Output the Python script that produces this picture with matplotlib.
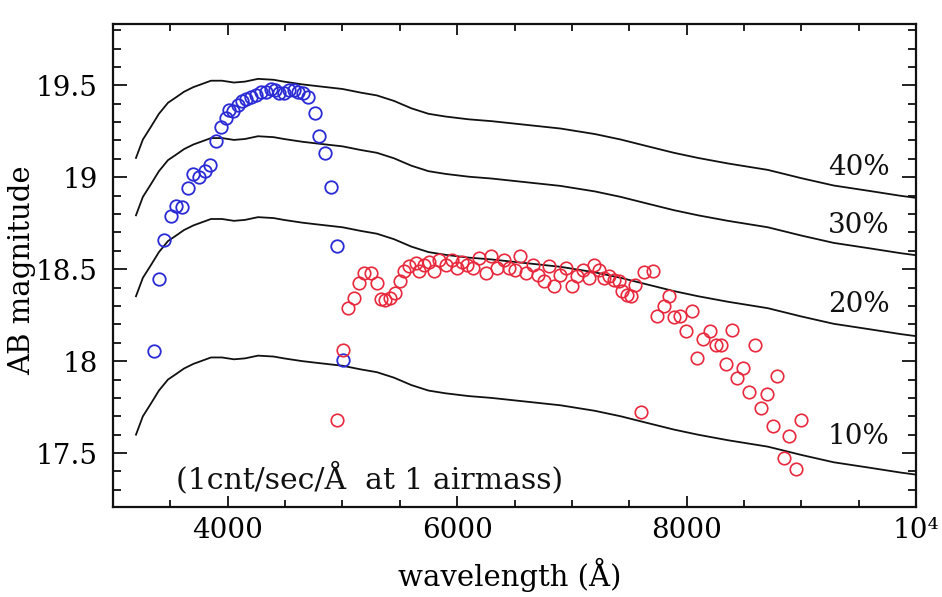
import matplotlib
matplotlib.use("Agg")
import matplotlib.pyplot as plt
from matplotlib.ticker import MultipleLocator, FixedLocator, FixedFormatter

# ---------------- data ----------------
# 10% throughput limiting-magnitude curve (1 cnt/sec/A at 1 airmass)
curve_wl = [3200, 3260, 3331, 3400, 3479, 3550, 3619, 3700, 3854, 3950, 4054,
            4150, 4264, 4400, 4490, 4650, 4787, 5000, 5161, 5300, 5450, 5600,
            5750, 5900, 6100, 6300, 6600, 6900, 7200, 7427, 7650, 7889, 8100,
            8360, 8708, 9000, 9283, 9600, 9867, 10000]
curve_mag10 = [17.60, 17.70, 17.77, 17.84, 17.90, 17.93, 17.96, 17.985, 18.02,
               18.02, 18.01, 18.015, 18.03, 18.025, 18.015, 18.00, 17.99,
               17.975, 17.955, 17.94, 17.91, 17.87, 17.84, 17.825, 17.81,
               17.80, 17.78, 17.76, 17.73, 17.70, 17.665, 17.628, 17.60,
               17.57, 17.535, 17.49, 17.45, 17.42, 17.394, 17.383]
levels = ["10%", "20%", "30%", "40%"]
level_offsets = [0.0, 0.753, 1.193, 1.505]
label_wl = [9500, 9500, 9500, 9500]
label_mag = [17.59, 18.307, 18.736, 19.052]

blue_wl = [3355, 3403, 3447, 3505, 3549, 3599, 3651, 3694, 3746, 3802, 3848,
           3898, 3941, 3985, 4013, 4044, 4087, 4122, 4159, 4203, 4246, 4290,
           4333, 4377, 4412, 4449, 4488, 4531, 4574, 4615, 4658, 4702, 4760,
           4797, 4850, 4900, 4952, 5002]
blue_mag = [18.057, 18.447, 18.657, 18.787, 18.841, 18.838, 18.941, 19.019,
            19.004, 19.032, 19.064, 19.198, 19.273, 19.322, 19.367, 19.358,
            19.394, 19.412, 19.425, 19.439, 19.448, 19.461, 19.466, 19.479,
            19.472, 19.457, 19.457, 19.472, 19.472, 19.466, 19.457, 19.436,
            19.352, 19.226, 19.131, 18.947, 18.624, 18.008]

red_wl = [4952, 5002, 5045, 5097, 5146, 5190, 5248, 5300, 5336, 5373, 5417,
          5460, 5500, 5538, 5582, 5641, 5669, 5713, 5756, 5800, 5843, 5902,
          5951, 5997, 6041, 6090, 6134, 6191, 6250, 6299, 6346, 6404, 6453,
          6503, 6549, 6599, 6657, 6701, 6753, 6802, 6845, 6898, 6947, 6997,
          7043, 7093, 7150, 7194, 7237, 7281, 7324, 7368, 7412, 7441, 7479,
          7514, 7551, 7602, 7630, 7703, 7744, 7802, 7847, 7890, 7942, 7992,
          8050, 8094, 8146, 8204, 8254, 8298, 8342, 8400, 8443, 8496, 8545,
          8595, 8647, 8699, 8749, 8792, 8850, 8893, 8952, 8996]
red_mag = [17.682, 18.063, 18.289, 18.343, 18.425, 18.479, 18.479, 18.425,
           18.338, 18.330, 18.343, 18.371, 18.434, 18.488, 18.515, 18.534,
           18.488, 18.524, 18.537, 18.488, 18.552, 18.524, 18.552, 18.507,
           18.537, 18.524, 18.507, 18.561, 18.479, 18.573, 18.507, 18.552,
           18.507, 18.497, 18.570, 18.479, 18.524, 18.470, 18.434, 18.515,
           18.407, 18.470, 18.507, 18.407, 18.465, 18.497, 18.452, 18.524,
           18.497, 18.452, 18.461, 18.443, 18.434, 18.379, 18.361, 18.352,
           18.416, 17.722, 18.485, 18.488, 18.244, 18.298, 18.352, 18.240,
           18.244, 18.162, 18.271, 18.017, 18.121, 18.162, 18.090, 18.090,
           17.986, 18.167, 17.909, 17.963, 17.830, 18.090, 17.746, 17.822,
           17.649, 17.921, 17.474, 17.595, 17.414, 17.678]

xtick_vals = [4000, 6000, 8000, 10000]
xtick_labels = ["4000", "6000", "8000", "10\u2074"]
ytick_vals = [17.5, 18.0, 18.5, 19.0, 19.5]
ytick_labels = ["17.5", "18", "18.5", "19", "19.5"]
note_text = "(1cnt/sec/\u00c5  at 1 airmass)"

# ---------------- plot ----------------
plt.rcParams["font.family"] = ["DejaVu Serif"]
fig = plt.figure(figsize=(9.42, 5.97), dpi=100)
ax = fig.add_axes([0.12, 0.1508, 0.8524, 0.8092])

for off in level_offsets:
    ax.plot(curve_wl, [m + off for m in curve_mag10], color="#111111", lw=1.3)

ax.plot(blue_wl, blue_mag, linestyle="none", marker="o", ms=9, mfc="none",
        mec="#2b2bd6", mew=1.3)
ax.plot(red_wl, red_mag, linestyle="none", marker="o", ms=9, mfc="none",
        mec="#e8283c", mew=1.2)

for lab, xw, ym in zip(levels, label_wl, label_mag):
    ax.text(xw, ym, lab, fontsize=20, ha="center", va="center", color="#111111")

ax.text(3545, 17.365, note_text, fontsize=21.5, ha="left", va="center",
        color="#111111")

ax.set_xlim(3000, 10000)
ax.set_ylim(17.207, 19.834)

ax.xaxis.set_major_locator(FixedLocator(xtick_vals))
ax.xaxis.set_major_formatter(FixedFormatter(xtick_labels))
ax.xaxis.set_minor_locator(MultipleLocator(500))
ax.yaxis.set_major_locator(FixedLocator(ytick_vals))
ax.yaxis.set_major_formatter(FixedFormatter(ytick_labels))
ax.yaxis.set_minor_locator(MultipleLocator(0.1))

ax.tick_params(axis="both", which="both", direction="in", top=True,
               right=True, width=1.3, color="#111111")
ax.tick_params(axis="x", which="major", length=8, labelsize=20, pad=7)
ax.tick_params(axis="x", which="minor", length=5)
ax.tick_params(axis="y", which="major", length=10, labelsize=20, pad=11)
ax.tick_params(axis="y", which="minor", length=6)

for sp in ax.spines.values():
    sp.set_linewidth(1.6)
    sp.set_color("#111111")

ax.set_xlabel("wavelength (\u00c5)", fontsize=21)
ax.set_ylabel("AB magnitude", fontsize=21)
ax.xaxis.set_label_coords(0.494, -0.105)
ax.yaxis.set_label_coords(-0.096, 0.49)

fig.savefig("out.png", dpi=100)
